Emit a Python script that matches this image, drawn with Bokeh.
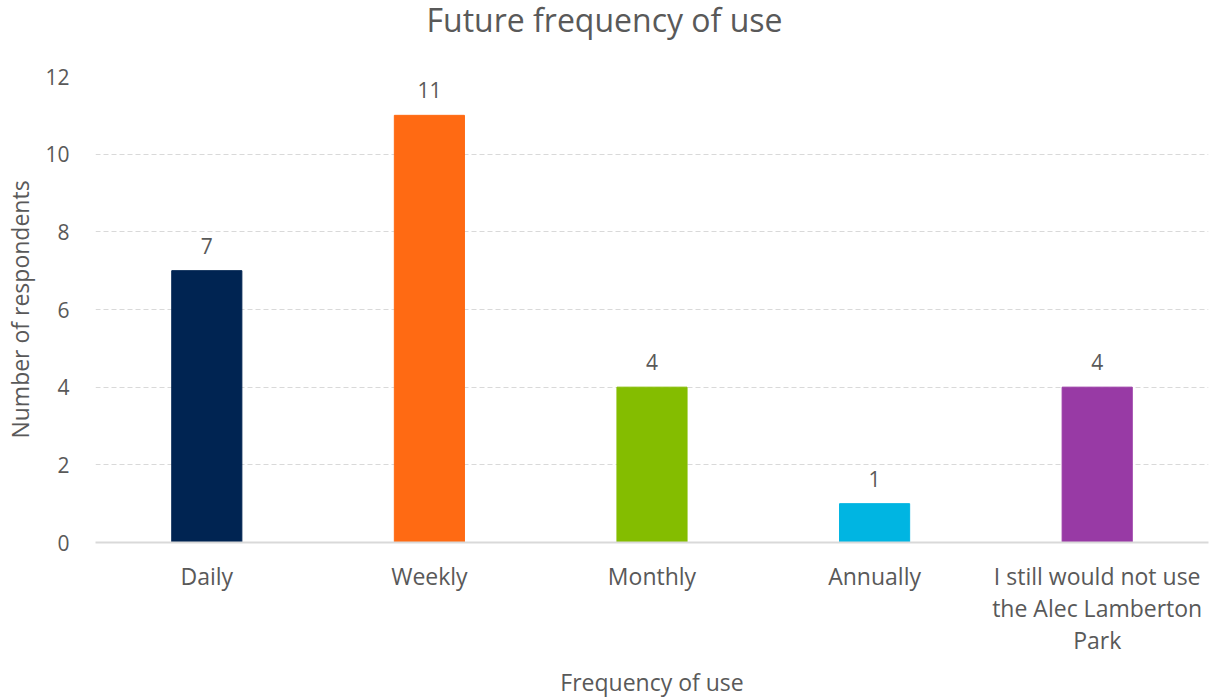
from bokeh.plotting import figure
from bokeh.models import ColumnDataSource, LabelSet, FactorRange, Range1d, Div
from bokeh.layouts import column
from bokeh.core.properties import value
from bokeh.embed import file_html
from bokeh.resources import INLINE

categories = ["Daily", "Weekly", "Monthly", "Annually",
              "I still would not use\nthe Alec Lamberton\nPark"]
respondents = [7, 11, 4, 1, 4]
bar_colors = ["#002452", "#ff6a13", "#84bd00", "#00b5e2", "#983aa5"]
y_ticks = [0, 2, 4, 6, 8, 10, 12]

FONT = "Open Sans"
TEXT = "#595959"
TITLE_H = 40

source = ColumnDataSource(dict(
    cat=categories,
    val=respondents,
    color=bar_colors,
    label=[str(v) for v in respondents],
))

# chart title, centred over the whole page width
title = Div(
    text="Future frequency of use",
    width=1209, height=TITLE_H, margin=0,
    styles={
        "font-family": FONT, "font-size": "32px", "color": TEXT,
        "text-align": "center", "line-height": f"{TITLE_H}px",
        "width": "1209px",
    },
)

p = figure(
    width=1209, height=700 - TITLE_H,
    x_range=FactorRange(*categories, range_padding=0),
    y_range=Range1d(0, 12),
    output_backend="svg", toolbar_location=None,
    min_border_left=95, min_border_right=1,
    min_border_top=76 - TITLE_H, min_border_bottom=157,
)
p.outline_line_color = None

p.vbar(x="cat", top="val", width=0.315, color="color", source=source)

# value labels above the bars
p.add_layout(LabelSet(
    x="cat", y="val", text="label", source=source,
    text_align="center", text_baseline="bottom", y_offset=17,
    text_font=value(FONT), text_font_size="21px", text_color=TEXT,
))

# grid
p.xgrid.grid_line_color = None
p.ygrid.grid_line_color = "#d9d9d9"
p.ygrid.grid_line_dash = "5 3"
p.ygrid.grid_line_width = 1
p.ygrid.ticker = y_ticks

# y axis
p.yaxis.ticker = y_ticks
p.yaxis.axis_line_color = None
p.yaxis.major_tick_line_color = None
p.yaxis.minor_tick_line_color = None
p.yaxis.major_tick_out = 0
p.yaxis.major_label_standoff = 26
p.yaxis.major_label_text_font = FONT
p.yaxis.major_label_text_font_size = "21px"
p.yaxis.major_label_text_color = TEXT
p.yaxis.axis_label = "Number of respondents"
p.yaxis.axis_label_text_font = FONT
p.yaxis.axis_label_text_font_size = "23px"
p.yaxis.axis_label_text_font_style = "normal"
p.yaxis.axis_label_text_color = TEXT
p.yaxis.axis_label_standoff = 6

# x axis
p.xaxis.axis_line_color = "#d9d9d9"
p.xaxis.axis_line_width = 2
p.xaxis.major_tick_line_color = None
p.xaxis.major_tick_out = 0
p.xaxis.major_label_standoff = 17
p.xaxis.major_label_text_font = FONT
p.xaxis.major_label_text_font_size = "23px"
p.xaxis.major_label_text_color = TEXT
p.xaxis.major_label_text_line_height = 1.0
p.xaxis.axis_label = "Frequency of use"
p.xaxis.axis_label_text_font = FONT
p.xaxis.axis_label_text_font_size = "23px"
p.xaxis.axis_label_text_font_style = "normal"
p.xaxis.axis_label_text_color = TEXT
p.xaxis.axis_label_standoff = 7

layout = column(title, p, spacing=0)

open("out.html", "w").write(file_html(layout, INLINE))
